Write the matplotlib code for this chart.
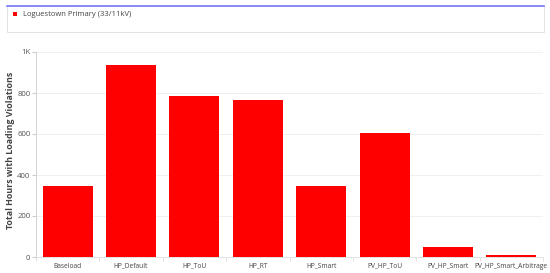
import matplotlib
matplotlib.use("Agg")
import matplotlib.pyplot as plt
from matplotlib.patches import Rectangle
from matplotlib.lines import Line2D
from matplotlib.ticker import FixedLocator

plt.rcParams["font.family"] = ["Open Sans", "DejaVu Sans"]

categories = ["Baseload", "HP_Default", "HP_ToU", "HP_RT", "HP_Smart",
              "PV_HP_ToU", "PV_HP_Smart", "PV_HP_Smart_Arbitrage"]
values = [346, 937, 785, 766, 346, 605, 49, 8]
series_name = "Loguestown Primary (33/11kV)"
yticks = [0, 200, 400, 600, 800, 1000]
ytick_labels = ["0", "200", "400", "600", "800", "1K"]

W, H = 550, 273
fig = plt.figure(figsize=(W / 100, H / 100), dpi=100)
ax = fig.add_axes([36 / W, 1 - 257 / H, 507 / W, 205 / H])

x = list(range(len(categories)))
ax.bar(x, values, width=0.79, color="#ff0000", zorder=3)
ax.set_xlim(-0.5, len(categories) - 0.5)
ax.set_ylim(0, 1000)
ax.set_yticks(yticks)
ax.set_yticklabels(ytick_labels, fontsize=5.6, color="#555555")
ax.set_xticks(x)
ax.set_xticklabels(categories, fontsize=4.8, color="#444444")
ax.tick_params(axis="x", length=0, pad=4)
ax.xaxis.set_minor_locator(FixedLocator([i + 0.5 for i in range(-1, len(categories))]))
ax.tick_params(axis="x", which="minor", length=3, color="#dddddd")
ax.tick_params(axis="y", length=3, color="#cccccc", pad=1)
ax.grid(axis="y", color="#eeeeee", linewidth=0.6, zorder=0)
for s in ["top", "right"]:
    ax.spines[s].set_visible(False)
ax.spines["left"].set_color("#cccccc")
ax.spines["left"].set_linewidth(0.6)
ax.spines["bottom"].set_color("#dddddd")
ax.spines["bottom"].set_linewidth(0.6)
ax.set_ylabel("Total Hours with Loading Violations", fontsize=6.4, fontweight="bold",
              color="#444444", va="center")
ax.yaxis.set_label_coords(-25 / 507, 0.52)

# legend box
fig.patches.append(Rectangle((7 / W, 1 - 32 / H), 537 / W, 26 / H, transform=fig.transFigure,
                             facecolor="white", edgecolor="#dddddd", linewidth=0.6))
fig.lines.append(Line2D([7 / W, 544 / W], [1 - 6 / H, 1 - 6 / H], transform=fig.transFigure,
                        color="#7777ff", linewidth=1.2))
fig.patches.append(Rectangle((13 / W, 1 - 16 / H), 4 / W, 4 / H, transform=fig.transFigure,
                             facecolor="#ff0000", edgecolor="none"))
fig.text(23 / W, 1 - 14 / H, series_name, fontsize=5.5, color="#444444", va="center", ha="left")

fig.savefig("out.png", dpi=100)
